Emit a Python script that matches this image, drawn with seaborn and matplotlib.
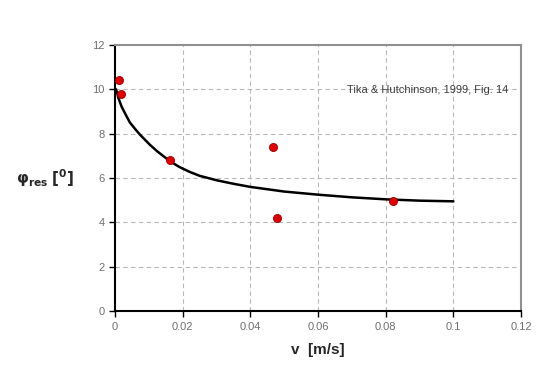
import pandas as pd
import matplotlib
matplotlib.use('Agg')
import matplotlib.pyplot as plt
import seaborn as sns

v_meas = [0.0012, 0.0018, 0.0163, 0.0466, 0.0480, 0.0821]
phi_meas = [10.42, 9.79, 6.81, 7.40, 4.19, 4.96]

# fitted curve
v_fit = [0.0003, 0.0006, 0.001, 0.0015, 0.002, 0.003, 0.0044, 0.006, 0.0074,
         0.0103, 0.0125, 0.0163, 0.019, 0.022, 0.025, 0.03, 0.035,
         0.04, 0.05, 0.06, 0.07, 0.08, 0.09, 0.1]
phi_fit = [10.0, 9.85, 9.6, 9.4, 9.2, 8.9, 8.5, 8.2, 7.95,
           7.5, 7.2, 6.75, 6.5, 6.28, 6.1, 5.9, 5.74,
           5.6, 5.39, 5.25, 5.13, 5.04, 4.98, 4.95]

x_ticks = [0, 0.02, 0.04, 0.06, 0.08, 0.1, 0.12]
x_labels = ['0', '0.02', '0.04', '0.06', '0.08', '0.1', '0.12']
y_ticks = [0, 2, 4, 6, 8, 10, 12]

df_meas = pd.DataFrame({'v': v_meas, 'phi': phi_meas})
df_fit = pd.DataFrame({'v': v_fit, 'phi': phi_fit})

sns.set_style('white')
plt.rcParams['font.family'] = ['Liberation Sans', 'DejaVu Sans']

fig = plt.figure(figsize=(5.4, 3.74), dpi=100)
ax = fig.add_axes([0.213, 0.168, 0.752, 0.712])

# grid lines (dashed, light gray)
for yv in y_ticks[1:-1]:
    ax.axhline(yv, color='#b8b8b8', lw=0.8, ls=(0, (4, 3)), zorder=0)
for xv in x_ticks[1:-1]:
    ax.axvline(xv, color='#b8b8b8', lw=0.8, ls=(0, (4, 3)), zorder=0)

sns.lineplot(data=df_fit, x='v', y='phi', color='black', lw=1.8, ax=ax,
             sort=True, zorder=2)
sns.scatterplot(data=df_meas, x='v', y='phi', color='#e00000', edgecolor='#a00000',
                s=34, linewidth=0.6, ax=ax, zorder=3)

ax.set_xlim(0, 0.12)
ax.set_ylim(0, 12)
ax.set_xticks(x_ticks)
ax.set_xticklabels(x_labels)
ax.set_yticks(y_ticks)
ax.tick_params(axis='both', direction='out', length=4, width=1, color='black',
               labelsize=8, labelcolor='#707070', bottom=True, left=True)

for side in ['left', 'bottom']:
    ax.spines[side].set_color('black')
    ax.spines[side].set_linewidth(1.5)
for side in ['top', 'right']:
    ax.spines[side].set_color('#909090')
    ax.spines[side].set_linewidth(1.5)

ax.set_xlabel('v  [m/s]', fontsize=11, fontweight='bold', labelpad=8)
ax.set_ylabel(r'$\mathbf{\varphi_{res}}$ $\mathbf{[^0]}$', fontsize=11,
              rotation=0, labelpad=34, va='center')

ax.text(0.1162, 9.97, 'Tika & Hutchinson, 1999, Fig. 14', ha='right', va='center',
        fontsize=8, color='#404040')

fig.savefig('out.png', dpi=100)
